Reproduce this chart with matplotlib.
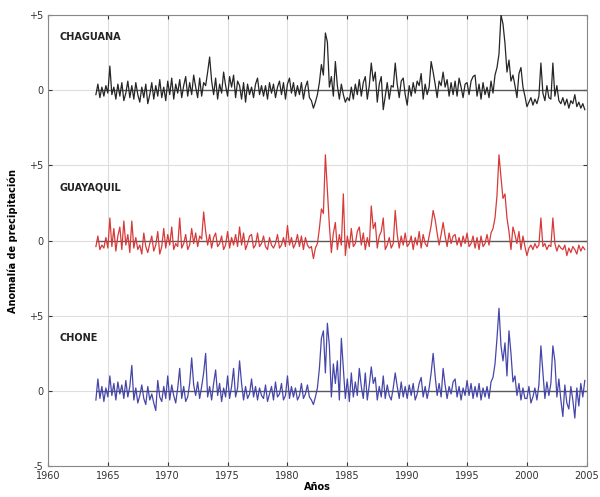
import numpy as np
import matplotlib
matplotlib.use('Agg')
import matplotlib.pyplot as plt

# anomalias de precipitacion, 6 valores por año (1964-2004)
chaguana = [
    -0.3, 0.4, -0.5, 0.2, -0.4, 0.3,
    -0.2, 1.6, -0.3, 0.2, -0.6, 0.4,
    -0.4, 0.5, -0.7, -0.2, 0.6, -0.5,
    0.3, -0.6, 0.5, -0.3, -0.8, 0.2,
    -0.5, 0.4, -0.9, -0.3, 0.5, -0.6,
    0.3, -0.4, 0.7, -0.5, 0.2, -0.7,
    0.6, -0.3, 0.8, -0.6, 0.4, -0.2,
    0.7, -0.5, 0.3, 0.9, -0.4, 0.5,
    -0.3, 1.0, 0.2, -0.5, 0.8, -0.4,
    0.5, 0.3, 1.2, 2.2, 0.6, -0.3,
    0.8, -0.6, 0.4, -0.2, 1.2, 0.3,
    -0.4, 0.9, 0.2, 1.0, -0.5, 0.6,
    0.3, -0.6, 0.5, -0.8, 0.4, -0.3,
    0.2, -0.5, 0.4, 0.8, -0.3, 0.3,
    -0.4, 0.3, -0.6, 0.5, -0.2, 0.4,
    -0.5, 0.2, 0.6, -0.3, 0.5, -0.6,
    0.4, 0.8, -0.2, 0.5, -0.4, 0.3,
    -0.3, 0.5, -0.6, 0.2, 0.6, -0.5,
    -0.7, -1.2, -0.8, -0.3, 0.5, 1.7,
    1.0, 3.8, 3.2, 0.2, 0.9, -0.4,
    1.9, 0.3, -0.6, 0.4, -0.3, -0.8,
    -0.5, -0.7, 0.2, -0.6, 0.4, -0.3,
    0.7, -0.4, 0.5, 0.9, -0.6, 0.3,
    1.8, 0.6, 1.2, -0.8, 0.4, 0.9,
    -1.3, -0.4, 0.5, -0.6, 0.3, 0.2,
    1.8, 0.4, -0.5, 0.6, 0.8, -0.3,
    -1.0, 0.3, -0.4, 0.5, -0.2, 0.6,
    0.3, 1.1, -0.6, 0.4, -0.3, 0.2,
    1.9, 1.2, 0.4, -0.5, 0.6, 0.3,
    1.2, 0.2, 0.7, -0.4, 0.5, -0.3,
    0.6, -0.4, 0.8, 0.2, -0.5, 0.4,
    0.5, -0.3, 0.6, 0.9, 1.0, -0.4,
    0.4, -0.6, 0.5, -0.3, 0.2, -0.5,
    0.6, -0.2, 1.0, 1.5, 2.4, 5.0,
    4.4, 3.1, 1.2, 2.0, 0.6, 1.0,
    0.3, -0.5, 1.1, 1.5, 0.2, -0.4,
    -1.1, -0.8, -0.5, -1.0, -0.6, -0.9,
    -0.4, 1.8, -0.2, -0.7, 0.3, -0.5,
    -0.6, 1.8, -0.4, 0.3, -0.7, -0.9,
    -0.5, -1.0, -0.6, -1.2, -0.7, -0.9,
    -0.3, -1.1, -0.8, -1.2, -0.9, -1.3,
]

guayaquil = [
    -0.4, 0.3, -0.6, -0.3, -0.5, 0.2,
    -0.5, 1.5, -0.4, 0.8, -0.7, 0.3,
    0.9, -0.6, 1.3, -0.3, 0.4, -0.8,
    1.3, -0.5, 0.2, -0.6, -0.3, -0.9,
    0.5, -0.4, -0.8, -0.2, 0.3, -0.7,
    -0.3, 0.6, -0.9, -0.4, 0.8, -0.5,
    0.4, -0.3, 0.9, -0.6, -0.2, -0.4,
    1.5, -0.5, -0.2, 0.4, -0.6, -0.3,
    0.8, -0.2, 0.5, -0.4, 0.3, 0.1,
    1.9, 0.6, -0.3, 0.4, -0.5, 0.2,
    0.5, -0.4, -0.2, 0.3, -0.6, -0.3,
    0.6, -0.5, 0.2, -0.3, 0.4, -0.4,
    0.9, -0.3, 0.5, -0.6, -0.2, 0.3,
    0.4, -0.5, -0.3, 0.5, -0.4, -0.2,
    0.3, -0.4, -0.6, 0.2, -0.3, -0.5,
    -0.2, 0.4, -0.5, -0.3, 0.2, -0.4,
    1.0, -0.3, 0.2, -0.5, -0.2, 0.4,
    -0.4, 0.3, -0.6, 0.2, -0.3, -0.5,
    -0.4, -1.2, -0.5, -0.2, 0.8, 2.1,
    1.8, 5.7, 3.4, 1.0, -0.8, 0.5,
    1.2, -0.6, 0.4, -0.3, 3.1, -1.0,
    0.3, -0.5, 0.8, -0.4, -0.2, 0.6,
    0.9, -0.3, 0.5, -0.6, 0.2, -0.4,
    2.3, 0.8, 1.2, -0.5, 0.3, 0.6,
    1.5, -0.6, -0.3, 0.2, -0.5, -0.2,
    2.0, 0.4, -0.5, 0.3, -0.3, 0.5,
    -0.4, -0.2, 0.3, -0.6, 0.2, -0.3,
    0.6, -0.5, 0.4, -0.2, -0.4, 0.3,
    1.0, 2.0, 1.4, 0.5, -0.3, 0.4,
    1.2, 0.3, -0.4, 0.5, -0.2, 0.3,
    0.4, -0.3, 0.2, -0.4, 0.3, -0.2,
    0.5, -0.4, -0.2, 0.3, -0.5, 0.2,
    -0.6, 0.3, -0.4, -0.2, 0.4, -0.3,
    0.5, 0.8, 1.5, 3.0, 5.7, 4.2,
    2.8, 3.1, 1.5, 0.6, -0.6, 0.9,
    0.4, -0.2, 0.6, -0.6, 0.3, -0.4,
    -1.0, -0.5, -0.3, -0.6, -0.2, -0.5,
    -0.3, 1.5, -0.4, -0.2, -0.6, -0.3,
    -0.4, 1.5, -0.2, -0.7, -0.3, -0.5,
    -0.6, -0.3, -1.0, -0.5, -0.8, -0.4,
    -0.6, -0.9, -0.3, -0.7, -0.4, -0.6,
]

chone = [
    -0.6, 0.8, -0.5, 0.3, -0.7, 0.2,
    -0.4, 1.0, -0.3, 0.5, -0.6, 0.6,
    -0.2, 0.4, -0.5, 0.7, -0.4, 0.3,
    1.7, -0.6, 0.2, -0.8, -0.3, 0.4,
    -0.5, -0.9, 0.3, -0.6, -0.2, -0.8,
    -1.3, 0.7, -0.4, -0.7, 0.3, -0.5,
    1.0, -0.6, 0.4, -0.3, -0.8, 0.2,
    1.5, -0.5, 0.3, -0.7, -0.4, 0.5,
    2.2, 0.4, -0.3, 0.6, -0.5, 0.3,
    1.2, 2.5, -0.4, 0.3, -0.6, 0.5,
    1.4, -0.3, 0.5, -0.7, 0.2, -0.4,
    1.0, -0.5, 0.3, 1.5, -0.4, 0.2,
    2.0, 0.5, -0.6, 0.3, -0.5, -0.2,
    0.8, -0.4, 0.3, -0.6, 0.2, -0.3,
    -0.5, 0.4, -0.7, -0.2, 0.3, -0.6,
    0.6, -0.4, -0.2, 0.5, -0.6, -0.3,
    1.0, -0.5, 0.3, -0.4, 0.2, -0.6,
    -0.3, 0.5, -0.5, -0.2, 0.4, -0.4,
    -0.6, -0.9, -0.4, 0.2, 1.5, 3.5,
    4.0, 1.2, 4.5, 3.0, -0.4, 1.8,
    0.5, 2.0, -0.6, 3.5, 1.5, -0.5,
    0.8, -0.7, 1.2, -0.4, 0.6, -0.3,
    1.5, 0.3, -0.5, 1.2, -0.6, 0.4,
    1.6, 0.5, 0.9, -0.6, 0.3, -0.4,
    1.0, -0.5, 0.4, -0.3, -0.6, 0.2,
    1.2, 0.3, -0.5, 0.6, -0.4, 0.3,
    -0.5, 0.4, -0.3, 0.5, -0.6, -0.2,
    0.5, 0.9, -0.4, 0.3, -0.5, 0.2,
    1.2, 2.5, 1.0, -0.3, 0.5, -0.4,
    1.5, 0.4, -0.5, 0.3, -0.2, 0.6,
    0.8, -0.4, 0.3, -0.6, 0.2, -0.3,
    0.7, -0.3, 0.5, -0.5, 0.3, -0.4,
    0.5, -0.6, 0.2, -0.4, 0.3, -0.5,
    0.6, 0.9, 1.8, 3.5, 5.5, 3.0,
    2.0, 3.2, 1.0, 4.0, 2.5, 0.6,
    1.0, -0.3, 0.5, -0.6, 0.2, -0.5,
    -0.5, 0.3, -0.8, -0.4, 0.2, -0.6,
    0.4, 3.0, 1.2, -0.5, 0.6, -0.3,
    0.5, 3.0, 2.0, -0.4, 0.8, -0.6,
    -1.7, 0.4, -0.8, -1.2, 0.3, -0.6,
    -1.8, 0.2, -1.0, 0.5, -0.4, 0.7,
]

estaciones = ['CHAGUANA', 'GUAYAQUIL', 'CHONE']
colores = ['#262626', '#d83a3a', '#4646aa']
desplaz = [20, 10, 0]

yticks = [-5, 0, 5, 10, 15, 20, 25]
ytick_labels = ['-5', '0', '+5', '0', '+5', '0', '+5']
xticks = [1960, 1965, 1970, 1975, 1980, 1985, 1990, 1995, 2000, 2005]

t = 1964 + np.arange(len(chaguana)) / 6.0

fig = plt.figure(figsize=(6, 4.97), dpi=100)
ax = fig.add_axes([0.08, 0.062, 0.898, 0.908])

for serie, nombre, col, d in zip([chaguana, guayaquil, chone], estaciones, colores, desplaz):
    ax.hlines(d, 1964, 2005, color='#5a5a5a', lw=1.0, zorder=2)
    ax.plot(t, np.array(serie) + d, color=col, lw=0.9, zorder=3)
    ax.text(1961, d + 3.5, nombre, fontsize=7, fontweight='bold', color='#222222', va='center')

ax.set_xlim(1960, 2005)
ax.set_ylim(-5, 25)
ax.set_xticks(xticks)
ax.set_yticks(yticks)
ax.set_yticklabels(ytick_labels)
ax.tick_params(direction='in', top=True, right=True, labelsize=7, length=3, colors='#333333')
ax.grid(True, color='#dedede', lw=0.8)
for s in ax.spines.values():
    s.set_color('#888888')

ax.set_xlabel('Años', fontsize=7, fontweight='bold', labelpad=1)
ax.set_ylabel('Anomalía de precipitación', fontsize=7, fontweight='bold', labelpad=8)

fig.savefig('out.png', dpi=100)
